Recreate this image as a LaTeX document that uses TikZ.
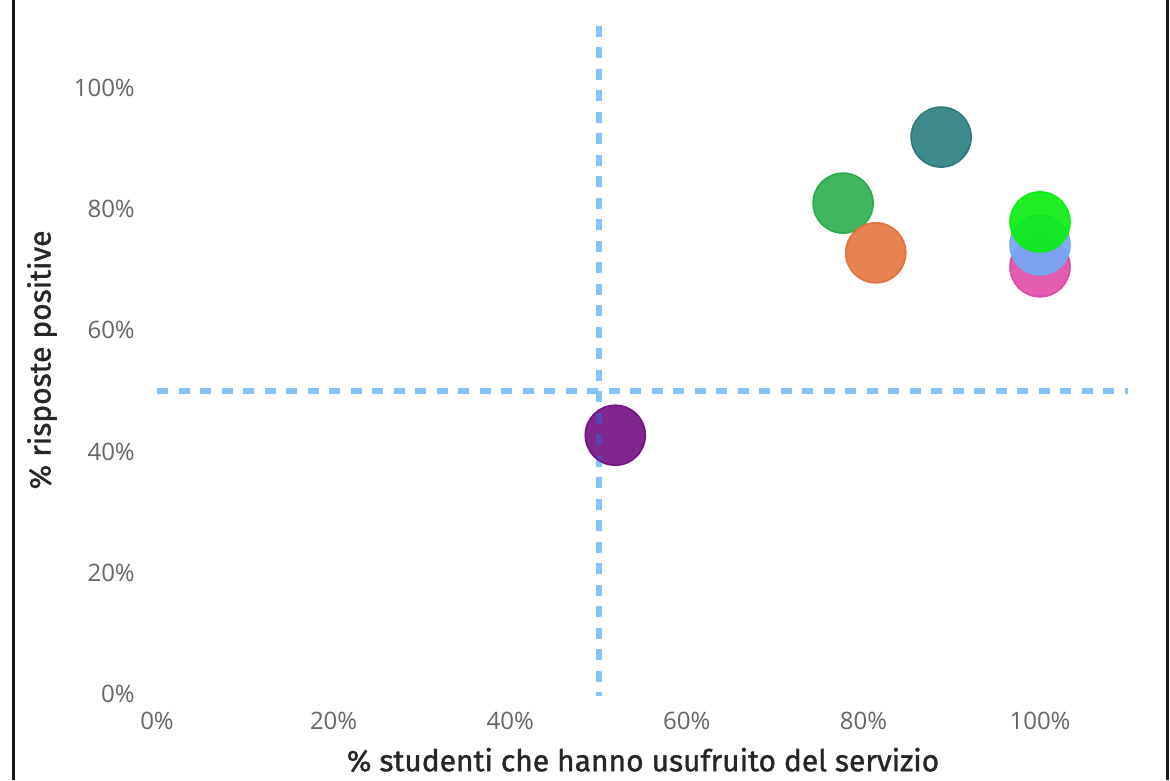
\documentclass[tikz,border=0pt]{standalone}
\usepackage{fontspec}
\setmainfont{Open Sans}
\newfontfamily\titlefont{Fira Sans}[FakeBold=1.2]
\definecolor{ticklbl}{HTML}{666666}
\definecolor{guide}{HTML}{86C2FA}
\definecolor{cTeal}{HTML}{2F8184}
\definecolor{cTealE}{HTML}{2A7679}
\definecolor{cGreen}{HTML}{2FB052}
\definecolor{cGreenE}{HTML}{2AAA45}
\definecolor{cOrange}{HTML}{E67843}
\definecolor{cOrangeE}{HTML}{E36F37}
\definecolor{cPink}{HTML}{E04FA9}
\definecolor{cPinkE}{HTML}{DB46A3}
\definecolor{cBlue}{HTML}{73A8F4}
\definecolor{cBrGreen}{HTML}{08EE10}
\definecolor{cPurple}{HTML}{761585}
\definecolor{cPurpleE}{HTML}{6E0F7C}
\definecolor{guideDark}{HTML}{3A6CE0}
\tikzset{
  bubble/.style={circle, minimum size=60pt, inner sep=0pt, line width=1.6pt, fill opacity=0.92, draw opacity=0.95},
  ylbl/.style={anchor=east, text=ticklbl, font=\fontsize{24}{28}\selectfont, inner sep=0pt},
  xlbl/.style={anchor=center, text=ticklbl, font=\fontsize{24}{28}\selectfont, inner sep=0pt},
  axtitle/.style={font=\titlefont\fontsize{30}{34}\selectfont, text=black!85, inner sep=0pt},
  guideline/.style={draw=guide, line width=6pt, dash pattern=on 11pt off 10.5pt},
  frameline/.style={draw=black!90, line width=3pt}
}
\begin{document}
\begin{tikzpicture}[x=1pt,y=1pt]
\useasboundingbox (0,0) rectangle (1170,780);
\fill[white] (0,0) rectangle (1170,780);
% frame
\coordinate (fl1) at (13.5,0); \coordinate (fl2) at (13.5,780);
\coordinate (fr1) at (1167,0); \coordinate (fr2) at (1167,780);
\draw[frameline] (fl1) -- (fl2);
\draw[frameline] (fr1) -- (fr2);
\begin{scope}[shift={(157pt,86pt)}, x=8.83pt, y=6.06pt]
  % tick labels
  \foreach \v in {0,20,40,60,80,100}{
    \node[ylbl] (yt\v) at (-2.5,\v) {\v\%};
    \node[xlbl] (xt\v) at (\v,-4.5) {\v\%};
  }
  % guide lines
  \coordinate (vtop) at (50,110.3);
  \coordinate (vbot) at (50,-0.3);
  \coordinate (hl) at (0,50);
  \coordinate (hr) at (110,50);
  \draw[guideline] (vtop) -- (vbot);
  \draw[guideline] (hl) -- (hr);
  % bubbles
  \node[bubble, fill=cPurple, draw=cPurpleE] (purple) at (51.9,42.7) {};
  \begin{scope}
    \clip (purple.center) circle (29pt);
    \draw[guideline, draw=guideDark, draw opacity=0.45] (vtop) -- (vbot);
  \end{scope}
  \node[bubble, fill=cTeal, draw=cTealE] (teal) at (88.8,91.9) {};
  \node[bubble, fill=cGreen, draw=cGreenE] (green) at (77.7,81.0) {};
  \node[bubble, fill=cOrange, draw=cOrangeE] (orange) at (81.4,72.8) {};
  \node[bubble, fill=cPink, draw=cPinkE] (pink) at (100,70.5) {};
  \node[bubble, fill=cBlue, draw=cBlue] (blue) at (100,74.1) {};
  \node[bubble, fill=cBrGreen, draw=cBrGreen, fill opacity=0.9] (brgreen) at (100,77.9) {};
\end{scope}
% axis titles
\node[axtitle] (xtitle) at (643,20) {\% studenti che hanno usufruito del servizio};
\node[axtitle, rotate=90] (ytitle) at (42,420) {\% risposte positive};
\end{tikzpicture}
\end{document}
